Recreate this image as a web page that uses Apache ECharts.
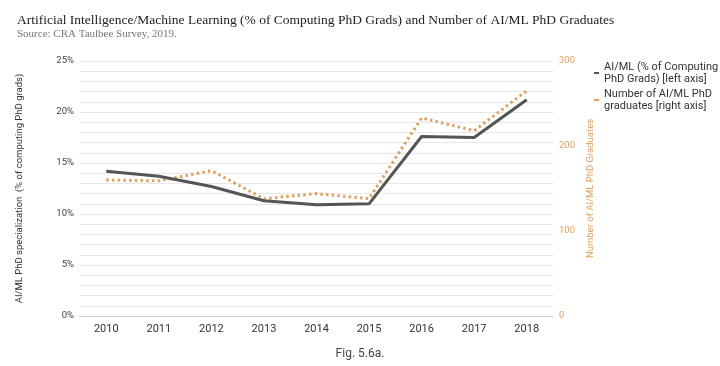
<!DOCTYPE html>
<html><head><meta charset="utf-8">
<script src="https://cdn.jsdelivr.net/npm/echarts@6/dist/echarts.min.js"></script>
<style>html,body{margin:0;padding:0;background:#fff}#c{width:720px;height:366px}</style>
</head><body><div id="c"></div>
<script>
var years = ['2010','2011','2012','2013','2014','2015','2016','2017','2018'];
var pctAIML = [14.2, 13.7, 12.7, 11.3, 10.9, 11.0, 17.6, 17.5, 21.2];
var countAIML = [160, 159, 171, 138, 144, 138, 233, 218, 265];
var seriesNames = ['AI/ML (% of Computing\nPhD Grads) [left axis]', 'Number of AI/ML PhD\ngraduates [right axis]'];

var chart = echarts.init(document.getElementById('c'));
chart.setOption({
  animation: false,
  title: [
    {text: 'Artificial Intelligence/Machine Learning (% of Computing PhD Grads) and Number of AI/ML PhD Graduates',
     left: 12, top: 8, textStyle: {fontFamily: 'Liberation Serif', fontSize: 13.5, fontWeight: 'normal', color: '#222'}},
    {text: 'Source: CRA Taulbee Survey, 2019.', left: 12, top: 24,
     textStyle: {fontFamily: 'Liberation Serif', fontSize: 11, fontWeight: 'normal', color: '#777'}},
    {text: 'Fig. 5.6a.', left: 'center', top: 343,
     textStyle: {fontFamily: 'Roboto', fontSize: 12, fontWeight: 'normal', color: '#444'}}
  ],
  legend: {
    orient: 'vertical', left: 589, top: 56, itemWidth: 5, itemHeight: 2, itemGap: 3,
    textStyle: {fontFamily: 'Roboto', fontSize: 11, color: '#333', lineHeight: 12},
    data: [
      {name: seriesNames[0], icon: 'rect', itemStyle: {color: '#555'}},
      {name: seriesNames[1], icon: 'rect', itemStyle: {color: '#dba262'}}
    ]
  },
  grid: {left: 80, right: 167, top: 61, bottom: 50},
  xAxis: {
    type: 'category', data: years, boundaryGap: true,
    axisLine: {lineStyle: {color: '#ccc'}}, axisTick: {show: false},
    axisLabel: {fontFamily: 'Roboto', fontSize: 11, color: '#333', margin: 8}
  },
  yAxis: [
    {type: 'value', min: 0, max: 25, interval: 1,
     name: 'AI/ML PhD specialization  (% of computing PhD grads)', nameLocation: 'middle', nameGap: 55,
     nameTextStyle: {fontFamily: 'Roboto', fontSize: 9.5, color: '#333'},
     axisLine: {show: false}, axisTick: {show: false},
     axisLabel: {fontFamily: 'Roboto', fontSize: 9.5, color: '#444', margin: 6,
       formatter: function(v){ return (Math.round(v) % 5 === 0) ? Math.round(v) + '%' : ''; }},
     splitLine: {lineStyle: {color: '#e8e8e8', width: 1}}},
    {type: 'value', min: 0, max: 300, interval: 100, position: 'right',
     name: 'Number of AI/ML PhD Graduates', nameLocation: 'middle', nameGap: 24,
     nameTextStyle: {fontFamily: 'Roboto', fontSize: 9.5, color: '#dba262'},
     axisLine: {show: false}, axisTick: {show: false},
     axisLabel: {fontFamily: 'Roboto', fontSize: 9.5, color: '#dba262', margin: 6},
     splitLine: {show: false}}
  ],
  series: [
    {name: seriesNames[0], type: 'line', yAxisIndex: 0, data: pctAIML, symbol: 'none',
     lineStyle: {color: '#555', width: 3}, itemStyle: {color: '#555'}, z: 3},
    {name: seriesNames[1], type: 'line', yAxisIndex: 1, data: countAIML, symbol: 'none',
     lineStyle: {color: '#dba262', width: 3, type: [2.5, 3.2]}, itemStyle: {color: '#dba262'}, z: 2}
  ]
});
</script></body></html>
